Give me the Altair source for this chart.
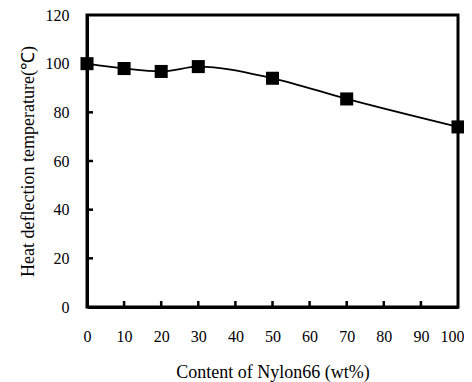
import altair as alt
import pandas as pd

content = [0, 10, 20, 30, 50, 70, 100]
hdt = [100, 98, 96.8, 98.8, 94, 85.5, 74]
x_ticks = [10, 20, 30, 40, 50, 60, 70, 80, 90]
y_ticks = [20, 40, 60, 80, 100]

df = pd.DataFrame({"x": content, "y": hdt})
W, H = 371, 292
FONT = "Liberation Serif"

xs = alt.Scale(domain=[0, 100], nice=False)
ys = alt.Scale(domain=[0, 120], nice=False)

common = dict(tickSize=0, domainWidth=3, domainColor="black", grid=False,
              labelFont=FONT, labelFontSize=16, titleFont=FONT, titleFontSize=18,
              titleFontWeight="normal", labelOverlap=False, labelFlush=False,
              labelColor="black", titleColor="black")
xax = alt.Axis(values=list(range(0, 101, 10)), title="Content of Nylon66 (wt%)",
               labelPadding=21, titlePadding=19,
               labelOffset=alt.ExprRef("datum.value == 100 ? -6 : 0"), **common)
yax = alt.Axis(values=list(range(0, 121, 20)), title="Heat deflection temperature(℃)",
               labelPadding=18, titlePadding=8, **common)

base = alt.Chart(df)
line = base.mark_line(color="black", strokeWidth=1.8, interpolate="monotone").encode(
    x=alt.X("x:Q", scale=xs, axis=xax),
    y=alt.Y("y:Q", scale=ys, axis=yax),
)
pts = base.mark_square(color="black", size=170, opacity=1).encode(
    x=alt.X("x:Q", scale=xs, axis=xax), y=alt.Y("y:Q", scale=ys, axis=yax))

xt = alt.Chart(pd.DataFrame({"t": x_ticks})).mark_rule(color="black", strokeWidth=2.5).encode(
    x=alt.X("t:Q", scale=xs, axis=xax), y=alt.value(H), y2=alt.value(H - 6))
yt = alt.Chart(pd.DataFrame({"t": y_ticks})).mark_rule(color="black", strokeWidth=2.5).encode(
    y=alt.Y("t:Q", scale=ys, axis=yax), x=alt.value(0), x2=alt.value(6))

chart = alt.layer(line, pts, xt, yt).properties(
    width=W, height=H, autosize=alt.AutoSizeParams(type="none"),
    padding={"left": 79, "top": 7, "right": 6, "bottom": 75},
    background="white",
).configure_view(stroke="black", strokeWidth=3).configure_axis(labelOverlap=False)

chart.save("out.html", embed_options={"renderer": "svg", "actions": False})
